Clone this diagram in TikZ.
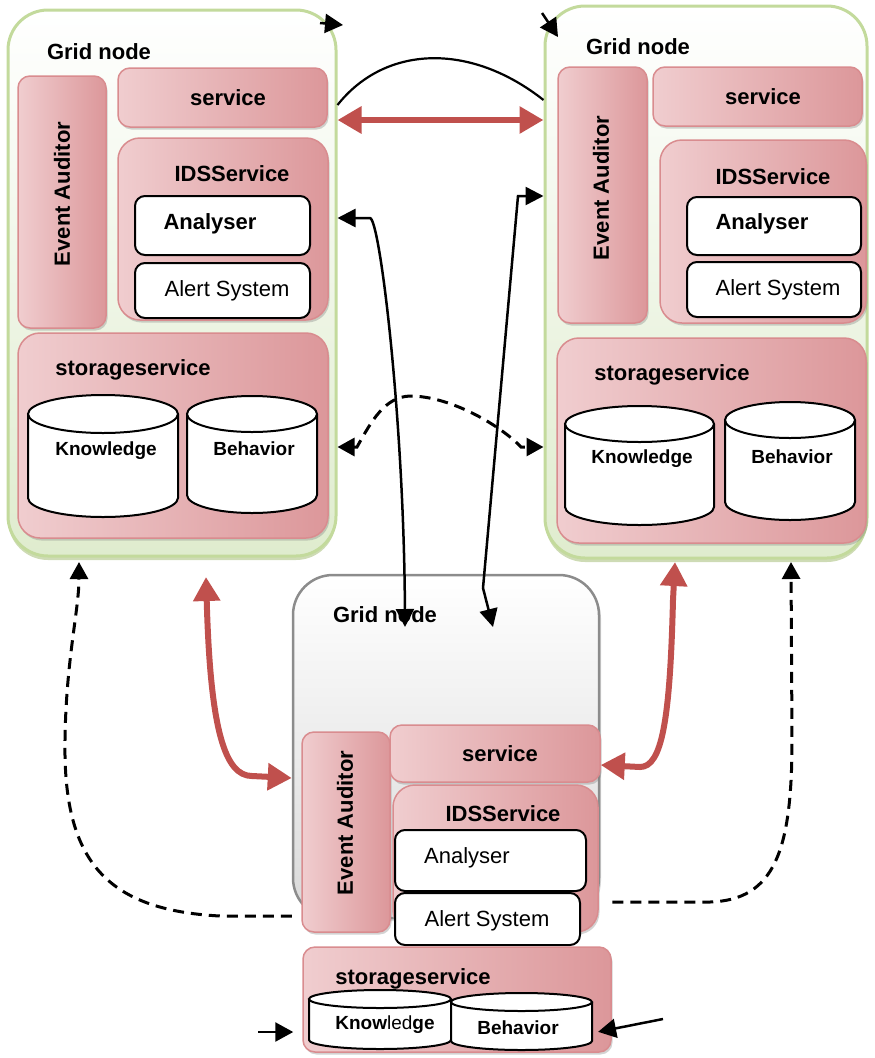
\documentclass[tikz,border=0pt]{standalone}
\usepackage{fontspec}
\setmainfont{Liberation Sans}
\usetikzlibrary{arrows.meta,shadows,calc}

\definecolor{arrowred}{HTML}{C0504D}
\definecolor{pinkL}{HTML}{F0CDCF}
\definecolor{pinkD}{HTML}{DC979A}
\definecolor{pinkB}{HTML}{D98C8F}
\definecolor{gridG}{HTML}{C3DA9C}
\definecolor{gridF}{HTML}{DFECCE}
\definecolor{gridS}{HTML}{B9CC95}
\definecolor{greyB}{HTML}{8C8C8C}

\tikzset{
  gridbox/.style={draw=gridG, line width=3pt, rounded corners=40pt, top color=white, bottom color=gridF, inner sep=0pt,
    drop shadow={shadow xshift=0pt, shadow yshift=-4pt, fill=gridS, opacity=0.7}},
  greybox/.style={draw=greyB, line width=2.5pt, rounded corners=40pt, top color=white, bottom color=black!15, inner sep=0pt,
    drop shadow={shadow xshift=2pt, shadow yshift=-3pt, opacity=0.3}},
  pinkbox/.style={draw=pinkB, line width=1.5pt, rounded corners=12pt, left color=pinkL, right color=pinkD, inner sep=0pt,
    drop shadow={shadow xshift=1.5pt, shadow yshift=-2.5pt, opacity=0.35}},
  bigpink/.style={pinkbox, rounded corners=22pt},
  whitebox/.style={draw=black, line width=2pt, fill=white, rounded corners=10pt, inner sep=0pt},
  lbl/.style={font=\fontsize{22}{26}\selectfont\bfseries, inner sep=0pt},
  regtext/.style={font=\fontsize{22}{26}\selectfont, inner sep=0pt},
  dbtext/.style={font=\fontsize{19}{23}\selectfont\bfseries, inner sep=0pt},
  drumline/.style={draw=black, line width=2pt},
  redarrow/.style={draw=arrowred, line width=6pt,
    arrows={Triangle[length=24pt,width=26pt]-Triangle[length=24pt,width=26pt]}},
  blkboth/.style={draw=black, line width=2.5pt,
    arrows={Triangle[length=18pt,width=18pt]-Triangle[length=18pt,width=18pt]}},
  blkarrow/.style={draw=black, line width=2.5pt, arrows={-Triangle[length=18pt,width=19pt]}},
  dashboth/.style={draw=black, line width=3pt, dash pattern=on 11pt off 7pt,
    arrows={Triangle[length=17pt,width=18pt]-Triangle[length=17pt,width=18pt]}},
  dashup/.style={draw=black, line width=3pt, dash pattern=on 11pt off 7pt, arrows={-Triangle[length=17pt,width=18pt]}},
  arcline/.style={draw=black, line width=2.2pt},
}

% rounded box from its corners: style, name, x1, y1, x2, y2
\newcommand\rbox[6]{%
  \node[#1, minimum width={#5-#3}, minimum height={#6-#4}] (#2) at ({(#3+#5)/2},{(#4+#6)/2}) {};%
}
% database drum: name, left, right, top centre y, bottom centre y, y radius, label position, label
\newcommand\drum[8]{%
  \pgfmathsetmacro\drumrx{(#3-#2)/2}%
  \pgfmathsetmacro\drumcx{(#3+#2)/2}%
  \fill[white] (#2,#4) -- (#2,#5) arc[start angle=180,end angle=0,x radius=\drumrx,y radius=#6] -- (#3,#4) -- cycle;
  \draw[drumline] (#2,#4) -- (#2,#5) arc[start angle=180,end angle=0,x radius=\drumrx,y radius=#6] -- (#3,#4);
  \draw[drumline,fill=white] (\drumcx,#4) ellipse[x radius=\drumrx,y radius=#6];
  \node[inner sep=0pt, minimum width={#3-#2}, minimum height={#5-#4+2*#6}] (#1) at (\drumcx,{(#4+#5)/2}) {};
  \node[dbtext] (#1-t) at #7 {#8};
}

\begin{document}
\begin{tikzpicture}[x=1pt,y=-1pt]
\useasboundingbox (0,0) rectangle (875,1058);

% ---------- left grid node ----------
\rbox{gridbox}{gl}{8}{10}{336}{556}
\node[lbl] (gl-t) at (99,52) {Grid node};
\rbox{pinkbox}{ea1}{18}{76}{106}{328}
\node[lbl, rotate=90] (ea1-t) at (62,194) {Event Auditor};
\rbox{pinkbox}{sv1}{118}{68}{327}{127}
\node[lbl] (sv1-t) at (228,98) {service};
\rbox{bigpink}{ids1}{118}{138}{328}{320}
\node[lbl] (ids1-t) at (232,174) {IDSService};
\rbox{whitebox}{an1}{135}{196}{310}{255}
\node[lbl] (an1-t) at (210,224) {Analyser};
\rbox{whitebox}{al1}{135}{263}{310}{318}
\node[regtext] (al1-t) at (227,291) {Alert System};
\rbox{bigpink}{st1}{18}{333}{328}{538}
\node[lbl] (st1-t) at (133,370) {storageservice};
\drum{kn1}{28}{178}{414}{498}{19}{(106,451)}{Knowledge}
\drum{bh1}{187}{317}{414}{495}{18}{(254,449)}{Behavior}

% ---------- right grid node ----------
\rbox{gridbox}{gr}{545}{6}{867}{558}
\node[lbl] (gr-t) at (638,47) {Grid node};
\rbox{pinkbox}{ea2}{558}{67}{647}{323}
\node[lbl, rotate=90] (ea2-t) at (601,188) {Event Auditor};
\rbox{pinkbox}{sv2}{653}{67}{862}{126}
\node[lbl] (sv2-t) at (763,97) {service};
\rbox{bigpink}{ids2}{660}{140}{866}{323}
\node[lbl] (ids2-t) at (773,177) {IDSService};
\rbox{whitebox}{an2}{687}{197}{861}{255}
\node[lbl] (an2-t) at (762,224) {Analyser};
\rbox{whitebox}{al2}{687}{262}{861}{317}
\node[regtext] (al2-t) at (778,290) {Alert System};
\rbox{bigpink}{st2}{557}{338}{866}{543}
\node[lbl] (st2-t) at (672,375) {storageservice};
\drum{kn2}{565}{714}{424}{507}{18}{(642,459)}{Knowledge}
\drum{bh2}{725}{855}{420}{502}{18}{(792,457)}{Behavior}

% ---------- lower grid node ----------
\rbox{greybox}{gb}{293}{575}{599}{918}
\node[lbl] (gb-t) at (385,615) {Grid node};
\rbox{pinkbox}{ea3}{302}{732}{390}{932}
\node[lbl, rotate=90] (ea3-t) at (345,823) {Event Auditor};
\rbox{pinkbox}{sv3}{390}{725}{600}{782}
\node[lbl] (sv3-t) at (500,754) {service};
\rbox{bigpink}{ids3}{393}{785}{598}{932}
\node[lbl] (ids3-t) at (503,814) {IDSService};
\rbox{whitebox}{an3}{395}{830}{586}{891}
\node[regtext] (an3-t) at (467,858) {Analyser};
\rbox{whitebox}{al3}{395}{893}{580}{945}
\node[regtext] (al3-t) at (487,921) {Alert System};
\rbox{pinkbox}{st3}{303}{947}{611}{1052}
\node[lbl] (st3-t) at (413,979) {storageservice};
\drum{kn3}{309}{451}{999}{1040}{9}{(385,1025)}{Know{\mdseries led}ge}
\drum{bh3}{451}{592}{1002}{1041}{9}{(518,1028)}{Behavior}

% ---------- connectors ----------
\coordinate (ta) at (320,23);
\coordinate (tb) at (343,25);
\coordinate (tc) at (542,13);
\coordinate (td) at (558,37);
\draw[blkarrow] (ta) -- (tb);
\draw[blkarrow] (tc) -- (td);

\draw[arcline] (gl.east |- 0,105) .. controls (385,45) and (470,42) .. (gr.west |- 0,100);
\draw[redarrow] (gl.east |- 0,120) -- (gr.west |- 0,120);

\coordinate (inA) at (405,627);
\coordinate (inB) at (493,627);
\draw[blkboth] (gl.east |- 0,218) -- (370,218) .. controls (380,219) and (404,420) .. (inA);
\draw[blkboth] (gr.west |- 0,196) -- (518,196) -- (483,588) -- (inB);

\draw[dashboth] (gl.east |- 0,447) -- (357,447) .. controls (372,420) and (385,397) .. (410,396)
  .. controls (450,396) and (500,425) .. (521,447) -- (gr.west |- 0,447);

\coordinate (rl) at (206,577);
\coordinate (rr) at (675,562);
\draw[redarrow] (rl) -- (207,610) .. controls (211,730) and (225,776) .. (252,776) -- (gb.west |- 0,778);
\draw[redarrow] (rr) -- (673,600) .. controls (670,720) and (662,767) .. (640,767) -- (sv3.east |- 0,765);

\coordinate (dl) at (79,562);
\coordinate (dr) at (791,562);
\draw[dashup] (gb.west |- 0,916) -- (220,916) .. controls (105,910) and (63,860) .. (65,740)
  .. controls (66,660) and (79,610) .. (dl);
\draw[dashup, shorten <=12pt] (gb.east |- 0,902) -- (710,902) .. controls (775,900) and (792,850) .. (792,740) -- (dr);

\coordinate (bl) at (258,1032);
\coordinate (br) at (663,1019);
\draw[blkarrow, shorten >=9pt] (bl) -- (st3.west |- 0,1032);
\draw[blkarrow, shorten >=6pt] (br) -- (bh3.east |- 0,1033);
\end{tikzpicture}
\end{document}
